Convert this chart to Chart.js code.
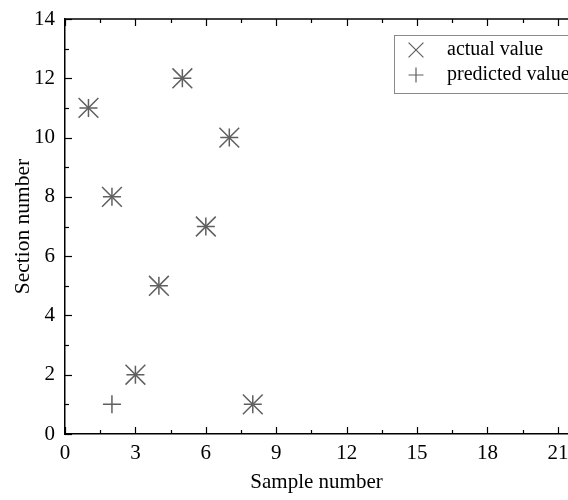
<!DOCTYPE html>
<html>
<head>
<meta charset="utf-8">
<script src="https://cdn.jsdelivr.net/npm/chart.js@4/dist/chart.umd.min.js"></script>
<style>
  html, body { margin: 0; padding: 0; background: #fff; overflow: hidden; }
  #wrap { width: 568px; height: 500px; position: relative; }
</style>
</head>
<body>
<div id="wrap"><canvas id="c" width="568" height="500"></canvas></div>
<script>
// ---- data ----
const actualX = [1, 2, 3, 4, 5, 6, 7, 8];
const actualY = [11, 8, 2, 5, 12, 7, 10, 1];
const predictedX = [1, 2, 2, 3, 4, 5, 6, 7, 8];
const predictedY = [11, 8, 1, 2, 5, 12, 7, 10, 1];
const xTickValues = [0, 3, 6, 9, 12, 15, 18, 21];
const yTickValues = [0, 2, 4, 6, 8, 10, 12, 14];
const seriesNames = ['actual value', 'predicted value'];
const axisTitles = { x: 'Sample number', y: 'Section number' };

const FONT = '"Liberation Serif", "Times New Roman", serif';
const MARK = 'rgb(95,95,95)';

const toPts = (xs, ys) => xs.map((x, i) => ({ x: x, y: ys[i] }));
const noPad = (s) => {
  s.paddingLeft = s.paddingRight = s.paddingTop = s.paddingBottom = 0;
  s.getPadding = () => ({ left: 0, top: 0, right: 0, bottom: 0 });
};

// inward ticks, frame and legend
const framePlugin = {
  id: 'frame',
  afterDraw(chart) {
    const ctx = chart.ctx;
    const a = chart.chartArea;
    const xs = chart.scales.x, ys = chart.scales.y;
    ctx.save();
    ctx.strokeStyle = '#000';
    ctx.lineWidth = 1.5;
    ctx.beginPath();
    ctx.moveTo(a.left, a.top);
    ctx.lineTo(chart.width, a.top);
    ctx.stroke();
    ctx.lineWidth = 1.2;
    for (let v = 0; v <= xs.max + 1e-9; v += 1.5) {
      const p = Math.round(xs.getPixelForValue(v)) + 0.5;
      const major = Math.abs(v / 3 - Math.round(v / 3)) < 1e-6;
      const len = major ? 7 : 4;
      ctx.beginPath();
      ctx.moveTo(p, a.bottom); ctx.lineTo(p, a.bottom - len);
      ctx.moveTo(p, a.top); ctx.lineTo(p, a.top + len);
      ctx.stroke();
    }
    for (let v = 0; v <= ys.max + 1e-9; v += 1) {
      const p = Math.round(ys.getPixelForValue(v)) + 0.5;
      const major = v % 2 === 0;
      const len = major ? 7 : 4;
      ctx.beginPath();
      ctx.moveTo(a.left, p); ctx.lineTo(a.left + len, p);
      ctx.stroke();
    }
    // legend
    const lx = 394, ly = 35, lw = 200, lh = 58;
    ctx.strokeStyle = '#8a8a8a';
    ctx.lineWidth = 1;
    ctx.strokeRect(lx + 0.5, ly + 0.5, lw, lh);
    const styles = ['crossRot', 'cross'];
    const radii = [10.5, 7.5];
    ctx.font = '20px ' + FONT;
    ctx.fillStyle = '#000';
    ctx.textBaseline = 'middle';
    seriesNames.forEach((name, i) => {
      const cy = ly + 15 + i * 25;
      ctx.strokeStyle = MARK;
      ctx.lineWidth = 1.2;
      Chart.helpers.drawPoint(ctx, { pointStyle: styles[i], radius: radii[i], borderWidth: 1.2 }, 416, cy);
      ctx.fillText(name, 447, cy);
    });
    ctx.restore();
  }
};

new Chart(document.getElementById('c'), {
  type: 'scatter',
  data: {
    datasets: [
      {
        label: seriesNames[0],
        data: toPts(actualX, actualY),
        pointStyle: 'crossRot',
        pointRadius: 14,
        pointHoverRadius: 14,
        borderColor: MARK,
        backgroundColor: MARK,
        borderWidth: 1.5
      },
      {
        label: seriesNames[1],
        data: toPts(predictedX, predictedY),
        pointStyle: 'cross',
        pointRadius: 9,
        pointHoverRadius: 9,
        borderColor: MARK,
        backgroundColor: MARK,
        borderWidth: 1.5
      }
    ]
  },
  options: {
    responsive: false,
    animation: false,
    events: [],
    layout: { autoPadding: false, padding: { top: 19, right: 0, left: 0, bottom: 0 } },
    plugins: { legend: { display: false }, tooltip: { enabled: false } },
    scales: {
      x: {
        type: 'linear',
        min: 0,
        max: 21.43,
        afterBuildTicks(s) { s.ticks = xTickValues.map(v => ({ value: v })); },
        afterFit(s) { s.height = 66; noPad(s); },
        grid: { display: true, drawOnChartArea: false, drawTicks: false },
        border: { display: true, color: '#000', width: 1.5 },
        ticks: { color: '#000', font: { family: FONT, size: 21 }, padding: 7, maxRotation: 0, includeBounds: false },
        title: { display: true, text: axisTitles.x, color: '#000', font: { family: FONT, size: 21 }, padding: { top: 2, bottom: 5 } }
      },
      y: {
        type: 'linear',
        min: 0,
        max: 14,
        afterBuildTicks(s) { s.ticks = yTickValues.map(v => ({ value: v })); },
        afterFit(s) { s.width = 65; noPad(s); },
        grid: { display: true, drawOnChartArea: false, drawTicks: false },
        border: { display: true, color: '#000', width: 1.5 },
        ticks: { color: '#000', font: { family: FONT, size: 21 }, padding: 10 },
        title: { display: true, text: axisTitles.y, color: '#000', font: { family: FONT, size: 21.5 }, padding: { top: 10, bottom: 0 } }
      }
    }
  },
  plugins: [framePlugin]
});
</script>
</body>
</html>
